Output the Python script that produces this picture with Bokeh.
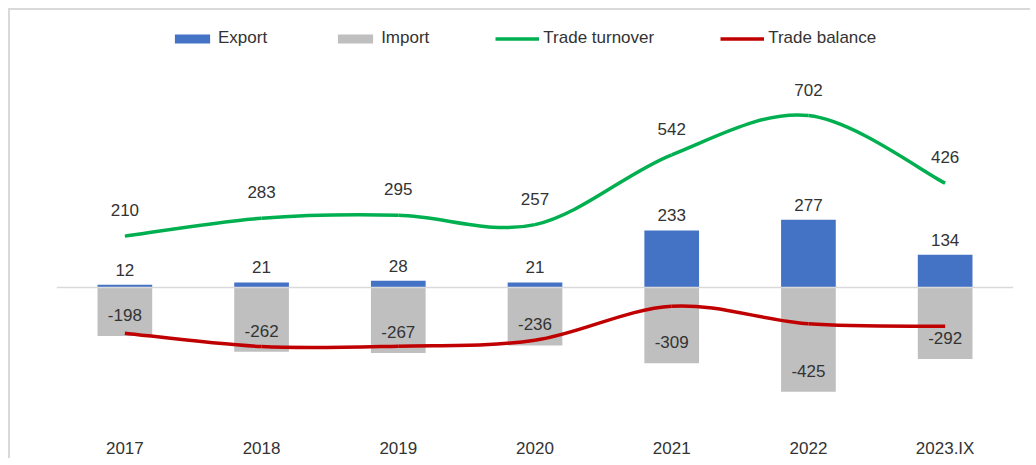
from bokeh.plotting import figure
from bokeh.models import Range1d, FixedTicker, Span, Legend
from bokeh.core.properties import value
from bokeh.embed import file_html
from bokeh.resources import INLINE

categories = ["2017", "2018", "2019", "2020", "2021", "2022", "2023.IX"]
export = [12, 21, 28, 21, 233, 277, 134]
imports = [-198, -262, -267, -236, -309, -425, -292]
turnover = [210, 283, 295, 257, 542, 702, 426]
balance = [-186, -241, -239, -215, -76, -148, -158]

FONT = value("Liberation Sans")
TXT = "#333333"
FS = "17px"

xs = list(range(len(categories)))

p = figure(width=1022, height=450, output_backend="svg", toolbar_location=None,
           x_range=Range1d(-0.5, len(categories) - 0.5), y_range=Range1d(-616, 1090),
           min_border_left=46, min_border_right=19, min_border_top=10, min_border_bottom=0)
p.styles = {"margin-left": "8px", "margin-top": "8px",
            "border-left": "2px solid #d9d9d9", "border-top": "2px solid #d9d9d9"}
p.outline_line_color = None
p.grid.visible = False
p.yaxis.visible = False
p.background_fill_color = "white"
p.border_fill_color = "white"

ax = p.xaxis[0]
ax.ticker = FixedTicker(ticks=xs)
ax.major_label_overrides = {i: c for i, c in zip(xs, categories)}
ax.axis_line_color = None
ax.major_tick_line_color = None
ax.minor_tick_line_color = None
ax.major_tick_out = 0
ax.major_tick_in = 0
ax.major_label_standoff = 0
ax.major_label_text_font = "Liberation Sans"
ax.major_label_text_font_size = FS
ax.major_label_text_color = TXT

p.add_layout(Span(location=0, dimension="width", line_color="#d9d9d9", line_width=1.5))

r_exp = p.vbar(x=xs, top=export, bottom=0, width=0.4, fill_color="#4472C4", line_color=None)
r_imp = p.vbar(x=xs, top=0, bottom=imports, width=0.4, fill_color="#BFBFBF", line_color=None)


def bezier_parts(xv, yv):
    n = len(xv)
    out = dict(x0=[], y0=[], x1=[], y1=[], cx0=[], cy0=[], cx1=[], cy1=[])
    for i in range(n - 1):
        a = max(i - 1, 0)
        d = min(i + 2, n - 1)
        out["x0"].append(xv[i]); out["y0"].append(yv[i])
        out["x1"].append(xv[i + 1]); out["y1"].append(yv[i + 1])
        out["cx0"].append(xv[i] + (xv[i + 1] - xv[a]) / 6)
        out["cy0"].append(yv[i] + (yv[i + 1] - yv[a]) / 6)
        out["cx1"].append(xv[i + 1] - (xv[d] - xv[i]) / 6)
        out["cy1"].append(yv[i + 1] - (yv[d] - yv[i]) / 6)
    return out


r_turn = p.bezier(**bezier_parts(xs, turnover), line_color="#00B050", line_width=3.5)
r_bal = p.bezier(**bezier_parts(xs, balance), line_color="#C00000", line_width=3.5)

common = dict(text_font=FONT, text_font_size=FS, text_color=TXT,
              text_align="center", text_baseline="middle")
p.text(x=xs, y=export, text=[str(v) for v in export], y_offset=-15, **common)
p.text(x=xs, y=imports, text=[str(v) for v in imports], y_offset=-21, **common)
p.text(x=xs, y=turnover, text=[str(v) for v in turnover], y_offset=-26, **common)

legend = Legend(items=[("Export", [r_exp]), ("Import", [r_imp]),
                       ("Trade turnover", [r_turn]), ("Trade balance", [r_bal])],
                orientation="horizontal", location=(114, 390))
legend.glyph_width = 44
legend.glyph_height = 11
legend.label_standoff = 4
legend.spacing = 66
legend.padding = 0
legend.margin = 0
legend.border_line_color = None
legend.background_fill_alpha = 0
legend.label_text_font = "Liberation Sans"
legend.label_text_font_size = FS
legend.label_text_color = TXT
legend.label_height = 18
p.add_layout(legend)

open("out.html", "w").write(file_html(p, INLINE))
